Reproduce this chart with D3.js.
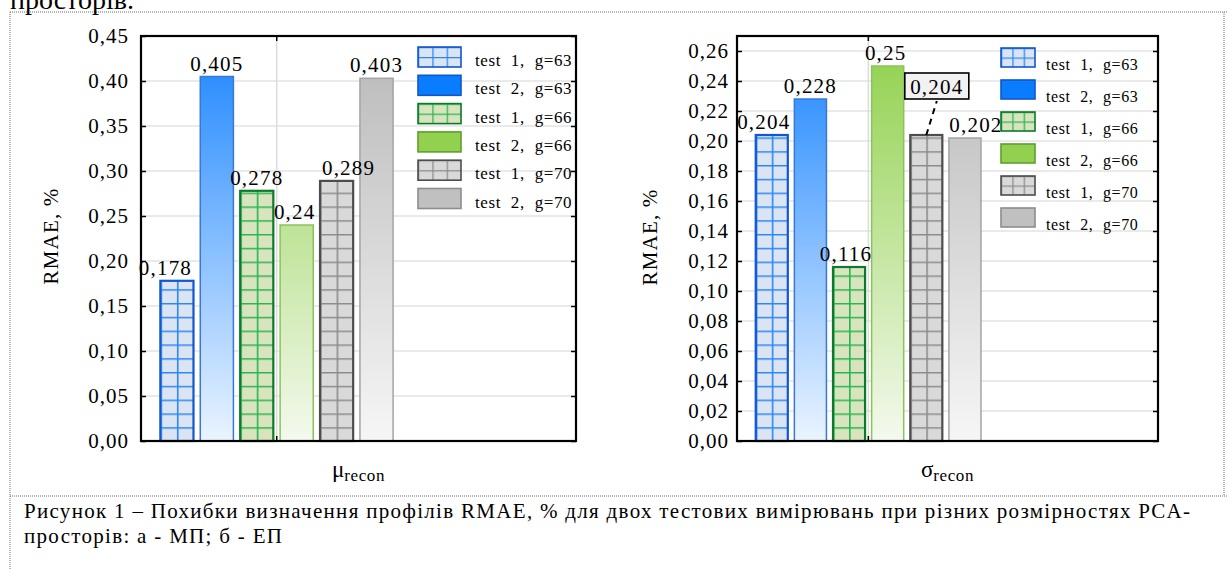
<!DOCTYPE html>
<html>
<head>
<meta charset="utf-8">
<script src="https://cdn.jsdelivr.net/npm/d3@7"></script>
<style>
  body { margin: 0; background: #fff; }
  svg { display: block; font-family: "Liberation Serif", "Times New Roman", serif; }
</style>
</head>
<body>
<svg id="fig" width="1227" height="569"></svg>
<script>
//Data
const seriesNames = ["test 1, g=63", "test 2, g=63", "test 1, g=66", "test 2, g=66", "test 1, g=70", "test 2, g=70"];
const muValues = [0.178, 0.405, 0.278, 0.24, 0.289, 0.403];
const sigmaValues = [0.204, 0.228, 0.116, 0.25, 0.204, 0.202];
const muTicks = [0, 0.05, 0.1, 0.15, 0.2, 0.25, 0.3, 0.35, 0.4, 0.45];
const sigmaTicks = [0, 0.02, 0.04, 0.06, 0.08, 0.1, 0.12, 0.14, 0.16, 0.18, 0.2, 0.22, 0.24, 0.26];
const catSymbols = ["μ", "σ"];
const catSub = "recon";
const yTitle = "RMAE, %";
const captionLines = [
  "Рисунок 1 – Похибки визначення профілів RMAE, % для двох тестових вимірювань при різних розмірностях PCA-",
  "просторів: а - МП; б - ЕП"
];

//Series looks (grid = hatched with lines, grad = vertical gradient)
const seriesStyle = [
  { kind: "grid", fill: "#dae4f2", line: "#2a88f6", stroke: "#1256d0" },
  { kind: "grad", top: "#1a84ff", bottom: "#eaf4ff", stroke: "#3a78d8", key: "#0a7cff", keyStroke: "#1058c8" },
  { kind: "grid", fill: "#d7e4bd", line: "#2ab552", stroke: "#0c7a2a" },
  { kind: "grad", top: "#8fd04a", bottom: "#f4f9ee", stroke: "#8cc25c", key: "#92d050", keyStroke: "#5f9e2e" },
  { kind: "grid", fill: "#d9d9d9", line: "#8c8c8c", stroke: "#4d4d4d" },
  { kind: "grad", top: "#b8b8b8", bottom: "#f6f6f6", stroke: "#a4a4a4", key: "#c0c0c0", keyStroke: "#8c8c8c" }
];

const fmt = (v) => d3.format(".2f")(v).replace(".", ",");
const fmtLabel = (v) => String(v).replace(".", ",");

const svg = d3.select("#fig");
const defs = svg.append("defs");

//Frame of the figure (dotted table borders)
const dotted = { stroke: "#6e6e6e", "stroke-width": 1, "stroke-dasharray": "1,1" };
function dotLine(x1, y1, x2, y2) {
  const l = svg.append("line").attr("x1", x1).attr("y1", y1).attr("x2", x2).attr("y2", y2);
  Object.entries(dotted).forEach(([k, v]) => l.attr(k, v));
}
dotLine(10, 12, 1227, 12);
dotLine(10, 12, 10, 569);
dotLine(1224, 12, 1224, 496);
dotLine(10, 496, 1227, 496);

//Text cut off at the top (it is cut in the original too)
svg.append("text")
  .attr("x", 10)
  .attr("y", 9)
  .attr("font-size", 28)
  .attr("fill", "#000")
  .text("просторів.");

//Caption
svg.append("text")
  .attr("x", 24)
  .attr("y", 518)
  .attr("font-size", 21)
  .attr("textLength", 1166)
  .attr("lengthAdjust", "spacing")
  .text(captionLines[0]);

svg.append("text")
  .attr("x", 24)
  .attr("y", 543)
  .attr("font-size", 21)
  .attr("letter-spacing", 1.3)
  .text(captionLines[1]);

function drawChart(cfg) {
  const w = cfg.right - cfg.left;
  const y = d3.scaleLinear().domain([0, cfg.yMax]).range([cfg.bottom, cfg.top]);

  //category sits at ~31% of the plot width, the rest is room for the legend
  const x0 = d3.scaleBand()
    .domain([cfg.symbol])
    .range([cfg.left, cfg.left + 2 * 0.312 * w]);
  const cx = x0(cfg.symbol) + x0.bandwidth() / 2;
  const gw = 0.535 * w;
  const x1 = d3.scaleBand()
    .domain(seriesNames)
    .range([cx - gw / 2, cx + gw / 2])
    .paddingInner(0.17);
  const bw = x1.bandwidth();

  const g = svg.append("g");

  //Gridlines
  g.selectAll(".hgrid")
    .data(cfg.ticks.filter((t) => t > 0))
    .join("line")
    .attr("x1", cfg.left)
    .attr("x2", cfg.right)
    .attr("y1", (d) => y(d))
    .attr("y2", (d) => y(d))
    .attr("stroke", "#e3e3e3")
    .attr("stroke-width", 1.5);

  g.append("line")
    .attr("x1", cx)
    .attr("x2", cx)
    .attr("y1", cfg.top)
    .attr("y2", cfg.bottom)
    .attr("stroke", "#dcdcdc")
    .attr("stroke-width", 1.5);

  //Gradients and patterns
  seriesStyle.forEach((s, i) => {
    if (s.kind === "grad") {
      const lg = defs.append("linearGradient")
        .attr("id", `grad-${cfg.id}-${i}`)
        .attr("gradientUnits", "userSpaceOnUse")
        .attr("x1", 0).attr("x2", 0)
        .attr("y1", cfg.top).attr("y2", cfg.bottom);
      lg.append("stop").attr("offset", "0%").attr("stop-color", s.top);
      lg.append("stop").attr("offset", "100%").attr("stop-color", s.bottom);
    } else {
      const p = defs.append("pattern")
        .attr("id", `pat-${cfg.id}-${i}`)
        .attr("patternUnits", "userSpaceOnUse")
        .attr("x", x1(seriesNames[i]))
        .attr("y", cfg.bottom)
        .attr("width", bw / 2)
        .attr("height", 13.8);
      p.append("rect").attr("width", bw / 2).attr("height", 13.8).attr("fill", s.fill);
      p.append("path")
        .attr("d", `M0,0V13.8M0,0H${bw / 2}`)
        .attr("stroke", s.line)
        .attr("stroke-width", 3.2)
        .attr("fill", "none");
    }
  });

  //Bars
  const data = cfg.values.map((v, i) => ({ name: seriesNames[i], value: v, i: i }));
  g.selectAll(".bar")
    .data(data)
    .join("rect")
    .attr("x", (d) => x1(d.name))
    .attr("y", (d) => y(d.value))
    .attr("width", bw)
    .attr("height", (d) => y(0) - y(d.value))
    .attr("fill", (d) => seriesStyle[d.i].kind === "grad" ? `url(#grad-${cfg.id}-${d.i})` : `url(#pat-${cfg.id}-${d.i})`)
    .attr("stroke", (d) => seriesStyle[d.i].stroke)
    .attr("stroke-width", (d) => seriesStyle[d.i].kind === "grad" ? 1.5 : 2.2);

  //Value labels
  data.forEach((d) => {
    const bx = x1(d.name) + bw / 2;
    const by = y(d.value);
    if (cfg.callout && cfg.callout.index === d.i) {
      const c = cfg.callout;
      const bxC = bx + c.dx;
      const byC = by + c.dy;
      g.append("line")
        .attr("x1", bx)
        .attr("y1", by)
        .attr("x2", bxC)
        .attr("y2", byC + c.h / 2 + 2)
        .attr("stroke", "#000")
        .attr("stroke-width", 2)
        .attr("stroke-dasharray", "6,5");
      g.append("rect")
        .attr("x", bxC - c.w / 2)
        .attr("y", byC - c.h / 2)
        .attr("width", c.w)
        .attr("height", c.h)
        .attr("fill", "#f2f2f2")
        .attr("stroke", "#000")
        .attr("stroke-width", 1.6);
      g.append("text")
        .attr("x", bxC)
        .attr("y", byC + 7.5)
        .attr("text-anchor", "middle")
        .attr("font-size", 21)
        .attr("letter-spacing", 1.2)
        .text(fmtLabel(d.value));
    } else {
      g.append("text")
        .attr("x", bx + cfg.labelShift[d.i])
        .attr("y", by - 6)
        .attr("text-anchor", "middle")
        .attr("font-size", 21)
        .attr("letter-spacing", 1.2)
        .text(fmtLabel(d.value));
    }
  });

  //Axes
  const yAxis = d3.axisLeft(y)
    .tickValues(cfg.ticks)
    .tickSize(-5)
    .tickPadding(cfg.labelGap)
    .tickFormat(fmt);
  const ya = g.append("g").attr("transform", `translate(${cfg.left},0)`).call(yAxis);
  ya.select(".domain").remove();
  ya.selectAll("line").attr("stroke", "#000").attr("stroke-width", 1.5);
  ya.selectAll("text")
    .attr("font-family", "Liberation Serif, serif")
    .attr("font-size", 21)
    .attr("letter-spacing", 1)
    .attr("fill", "#000");

  const yAxisR = d3.axisRight(y).tickValues(cfg.ticks).tickSize(-5).tickFormat("");
  const yr = g.append("g").attr("transform", `translate(${cfg.right},0)`).call(yAxisR);
  yr.select(".domain").remove();
  yr.selectAll("line").attr("stroke", "#000").attr("stroke-width", 1.5);

  //category ticks top and bottom
  g.append("line")
    .attr("x1", cx).attr("x2", cx)
    .attr("y1", cfg.top).attr("y2", cfg.top + 5)
    .attr("stroke", "#000").attr("stroke-width", 1.5);
  g.append("line")
    .attr("x1", cx).attr("x2", cx)
    .attr("y1", cfg.bottom).attr("y2", cfg.bottom - 5)
    .attr("stroke", "#000").attr("stroke-width", 1.5);

  //Plot frame
  g.append("rect")
    .attr("x", cfg.left)
    .attr("y", cfg.top)
    .attr("width", w)
    .attr("height", cfg.bottom - cfg.top)
    .attr("fill", "none")
    .attr("stroke", "#000")
    .attr("stroke-width", 2.2);

  //Y title
  g.append("text")
    .attr("transform", `translate(${cfg.yTitleX},${cfg.yTitleY}) rotate(-90)`)
    .attr("text-anchor", "middle")
    .attr("font-size", 21)
    .attr("letter-spacing", 1.2)
    .text(yTitle);

  //X title
  const xt = g.append("text")
    .attr("x", (cfg.left + cfg.right) / 2)
    .attr("y", 477)
    .attr("text-anchor", "middle")
    .attr("font-size", 23);
  xt.append("tspan").text(cfg.symbol);
  xt.append("tspan").attr("font-size", 17).attr("letter-spacing", 0.6).attr("dy", 4).text(catSub);

  //Legend
  const L = cfg.legend;
  seriesNames.forEach((name, i) => {
    const s = seriesStyle[i];
    const by = L.y0 + i * L.step;
    let fill = s.key;
    if (s.kind === "grid") {
      const p = defs.append("pattern")
        .attr("id", `key-${cfg.id}-${i}`)
        .attr("patternUnits", "userSpaceOnUse")
        .attr("x", L.x)
        .attr("y", by)
        .attr("width", L.boxW / 3)
        .attr("height", L.boxH / 2);
      p.append("rect").attr("width", L.boxW / 3).attr("height", L.boxH / 2).attr("fill", s.fill);
      p.append("path")
        .attr("d", `M0,0V${L.boxH / 2}M0,0H${L.boxW / 3}`)
        .attr("stroke", s.line)
        .attr("stroke-width", 2.5)
        .attr("fill", "none");
      fill = `url(#key-${cfg.id}-${i})`;
    }
    g.append("rect")
      .attr("x", L.x)
      .attr("y", by)
      .attr("width", L.boxW)
      .attr("height", L.boxH)
      .attr("fill", fill)
      .attr("stroke", s.kind === "grid" ? s.stroke : s.keyStroke)
      .attr("stroke-width", 1.6);
    g.append("text")
      .attr("x", L.textX)
      .attr("y", by + L.textDy)
      .attr("font-size", L.font)
      .attr("letter-spacing", 0.6)
      .attr("word-spacing", 5)
      .text(name);
  });
}

drawChart({
  id: "mu",
  values: muValues,
  ticks: muTicks,
  symbol: catSymbols[0],
  yMax: 0.45,
  left: 141, right: 576, top: 36, bottom: 441,
  labelGap: 12,
  labelShift: [-11.5, 0, 0, -2, 12, 0],
  yTitleX: 58, yTitleY: 236,
  legend: { x: 418, y0: 47, step: 28.3, boxW: 43, boxH: 20, textX: 475, textDy: 19, font: 17 }
});

drawChart({
  id: "sigma",
  values: sigmaValues,
  ticks: sigmaTicks,
  symbol: catSymbols[1],
  yMax: 0.27,
  left: 737, right: 1158, top: 36, bottom: 441,
  labelGap: 8,
  labelShift: [-8, 0, -3, -2, 0, 11],
  callout: { index: 4, dx: 10.5, dy: -49, w: 64, h: 26 },
  yTitleX: 657, yTitleY: 237,
  legend: { x: 1001, y0: 48, step: 32, boxW: 34, boxH: 19, textX: 1046, textDy: 22, font: 16 }
});
</script>
</body>
</html>
